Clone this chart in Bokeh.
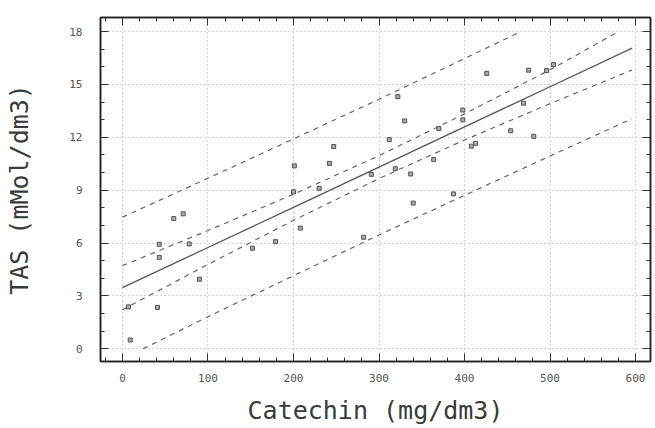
from bokeh.plotting import figure
from bokeh.models import (LinearAxis, SingleIntervalTicker, Range1d, ColumnDataSource,
                          Grid, CustomJSTickFormatter)
from bokeh.embed import file_html
from bokeh.resources import INLINE

# measured points
catechin = [9, 7, 41, 43, 43, 60, 71, 78, 90, 152, 179, 208, 200, 201, 230, 242, 247,
            282, 291, 312, 319, 322, 330, 337, 340, 364, 370, 387, 398, 398, 408, 413,
            426, 454, 469, 475, 481, 496, 504]
tas = [0.50, 2.38, 2.35, 5.19, 5.93, 7.39, 7.66, 5.95, 3.95, 5.71, 6.08, 6.85, 8.91,
       10.38, 9.11, 10.52, 11.48, 6.33, 9.90, 11.87, 10.22, 14.31, 12.93, 9.92, 8.27,
       10.74, 12.50, 8.79, 13.55, 12.99, 11.50, 11.66, 15.63, 12.37, 13.94, 15.81,
       12.06, 15.79, 16.13]

# regression line and bands
fit_x = [0, 100, 200, 300, 400, 500, 596]
fit_y = [3.47, 5.75, 8.03, 10.31, 12.59, 14.87, 17.06]
ci_up_x = [0, 100, 200, 300, 400, 500, 580]
ci_up_y = [4.72, 6.71, 8.77, 10.96, 13.33, 15.83, 18.0]
ci_lo_x = [0, 100, 200, 300, 400, 500, 596]
ci_lo_y = [2.22, 4.79, 7.29, 9.66, 11.85, 13.91, 15.82]
pi_up_x = [0, 100, 200, 300, 400, 466]
pi_up_y = [7.47, 9.68, 11.91, 14.16, 16.47, 18.0]
pi_lo_x = [24, 100, 200, 300, 400, 500, 596]
pi_lo_y = [0.0, 1.82, 4.15, 6.46, 8.71, 10.94, 13.06]

x_title = "Catechin (mg/dm3)"
y_title = "TAS (mMol/dm3)"

FONT = "DejaVu Sans Mono"

p = figure(width=655, height=428, output_backend="svg", toolbar_location=None,
           x_range=Range1d(-25.7, 617.5), y_range=Range1d(-0.72, 18.8),
           min_border_left=100, min_border_right=5, min_border_top=17,
           min_border_bottom=67, x_axis_type=None, y_axis_type=None)
p.background_fill_color = "white"
p.border_fill_color = "white"
p.outline_line_color = "#222222"
p.outline_line_width = 1.5

xt = SingleIntervalTicker(interval=100, num_minor_ticks=5)
yt = SingleIntervalTicker(interval=3, num_minor_ticks=3)

def style(ax, labels):
    ax.axis_line_color = "#222222"
    ax.axis_line_width = 1.5
    ax.major_tick_in = 8
    ax.major_tick_out = 0
    ax.minor_tick_in = 4
    ax.minor_tick_out = 0
    ax.major_tick_line_color = "#333333"
    ax.minor_tick_line_color = "#333333"
    ax.major_label_text_font = FONT
    ax.major_label_text_font_size = "11px"
    ax.major_label_text_color = "#555555"
    if labels:
        ax.axis_label_text_font = FONT
        ax.axis_label_text_font_size = "25px"
        ax.axis_label_text_font_style = "normal"
        ax.axis_label_text_color = "#3a3a3a"
    else:
        ax.formatter = CustomJSTickFormatter(code="return '';")
        ax.major_label_standoff = 0

bottom = LinearAxis(ticker=xt, axis_label=x_title)
style(bottom, True)
bottom.major_label_standoff = 12
bottom.axis_label_standoff = 11
p.add_layout(bottom, "below")

left = LinearAxis(ticker=yt, axis_label=y_title)
style(left, True)
left.major_label_standoff = 18
left.axis_label_standoff = 32
p.add_layout(left, "left")

top = LinearAxis(ticker=xt)
style(top, False)
p.add_layout(top, "above")

right = LinearAxis(ticker=yt)
style(right, False)
p.add_layout(right, "right")

for dim, tk in ((0, xt), (1, yt)):
    g = Grid(dimension=dim, ticker=tk)
    g.grid_line_color = "#aaaaaa"
    g.grid_line_dash = "1 3"
    g.grid_line_width = 1
    p.add_layout(g)

dash = "5 5"
p.line(fit_x, fit_y, line_color="#555555", line_width=1.3)
p.line(ci_up_x, ci_up_y, line_color="#666666", line_width=1.2, line_dash=dash)
p.line(ci_lo_x, ci_lo_y, line_color="#666666", line_width=1.2, line_dash=dash)
p.line(pi_up_x, pi_up_y, line_color="#666666", line_width=1.2, line_dash=dash)
p.line(pi_lo_x, pi_lo_y, line_color="#666666", line_width=1.2, line_dash=dash)

src = ColumnDataSource(dict(x=catechin, y=tas))
p.scatter("x", "y", source=src, marker="square", size=4, fill_color="#aaaaaa",
          line_color="#555555", line_width=1)

open("out.html", "w").write(file_html(p, INLINE))
